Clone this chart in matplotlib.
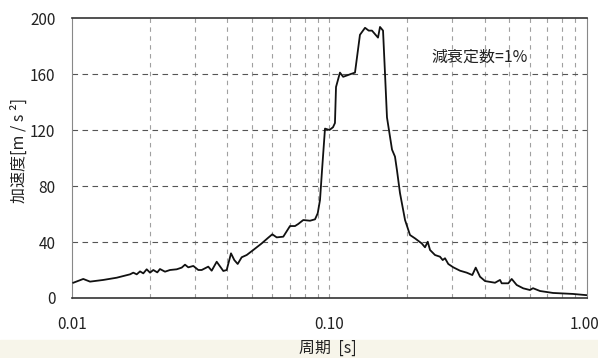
import numpy as np
import matplotlib.pyplot as plt
from matplotlib.ticker import FixedLocator, NullFormatter
from matplotlib.patches import Rectangle

plt.rcParams['font.family'] = ['Noto Sans CJK JP', 'DejaVu Sans']

# response spectrum (period [s], acceleration [m/s2])
period = [0.01012, 0.01106, 0.01175, 0.01323, 0.01492, 0.01680, 0.01730, 0.01784,
          0.01837, 0.01892, 0.01950, 0.02009, 0.02069, 0.02144, 0.02196, 0.02297,
          0.02402, 0.02551, 0.02667, 0.02747, 0.02829, 0.02959, 0.03094, 0.03189,
          0.03382, 0.03487, 0.03647, 0.03869, 0.03988, 0.04145, 0.04269, 0.04400,
          0.04560, 0.04769, 0.05059, 0.05454, 0.05785, 0.05996, 0.06237, 0.06615,
          0.07024, 0.07345, 0.07565, 0.07910, 0.08401, 0.08785, 0.09000, 0.09186,
          0.09352, 0.09605, 0.1000, 0.1032, 0.1050, 0.1060, 0.1098, 0.1130,
          0.1170, 0.1210, 0.1256, 0.1279, 0.1313, 0.1374, 0.1420, 0.1462,
          0.1510, 0.1543, 0.1571, 0.1614, 0.1643, 0.1672, 0.1749, 0.1796,
          0.1829, 0.1878, 0.1965, 0.2054, 0.2148, 0.2281, 0.2349, 0.2407,
          0.2457, 0.2569, 0.2686, 0.2752, 0.2809, 0.2893, 0.3026, 0.3213,
          0.3411, 0.3586, 0.3697, 0.3842, 0.4018, 0.4393, 0.4594, 0.4664,
          0.4948, 0.5100, 0.5333, 0.5656, 0.6005, 0.6170, 0.6569, 0.7379,
          0.8822, 1.0000]
accel = [10.9, 13.6, 11.7, 12.9, 14.5, 16.9, 18.1, 16.9,
         19.0, 17.6, 20.5, 18.1, 20.0, 18.3, 20.7, 18.8,
         20.0, 20.5, 21.7, 23.8, 21.9, 22.9, 20.0, 20.0,
         22.4, 19.5, 25.9, 19.3, 20.0, 31.9, 27.1, 24.3,
         29.1, 30.7, 34.3, 39.0, 43.1, 45.5, 43.3, 43.8,
         51.4, 51.4, 52.9, 55.7, 55.2, 56.2, 60.5, 70.0,
         91.0, 121.0, 120.0, 122.0, 125.0, 150.7, 161.0, 158.0,
         159.0, 160.0, 161.0, 172.0, 188.0, 193.0, 191.0, 191.0,
         188.0, 186.0, 193.6, 191.0, 160.0, 129.0, 106.0, 101.0,
         91.0, 75.0, 55.7, 45.0, 42.6, 39.0, 36.2, 40.2,
         34.3, 30.7, 29.5, 27.1, 28.4, 24.3, 21.9, 19.5,
         18.1, 16.4, 21.7, 15.2, 12.1, 10.9, 12.9, 10.5,
         10.5, 13.6, 9.3, 6.9, 5.7, 7.0, 5.0, 3.6,
         2.9, 2.0]

x_major = [0.01, 0.1, 1.0]
x_labels = ['0.01', '0.10', '1.00']
y_ticks = [0, 40, 80, 120, 160, 200]

fig = plt.figure(figsize=(5.98, 3.58), dpi=100)
fig.patches.append(Rectangle((0, 0), 1, 0.05, transform=fig.transFigure,
                             color='#f7f5ea', zorder=0))
ax = fig.add_axes([0.1204, 0.1676, 0.8612, 0.7821])

minor = [m * d for d in (0.01, 0.1) for m in range(2, 10)]
for xv in minor + [0.1]:
    ax.axvline(xv, color='#a0a0a0', lw=0.8, ls=(0, (4, 4)), zorder=1)
for yv in [40, 80, 120, 160]:
    ax.axhline(yv, color='#555555', lw=0.8, ls=(0, (5, 4)), zorder=1)

ax.plot(period, accel, color='#111111', lw=1.3, zorder=3)

ax.set_xscale('log')
ax.set_xlim(0.01, 1.0)
ax.set_ylim(0, 200)
ax.xaxis.set_major_locator(FixedLocator(x_major))
ax.xaxis.set_major_formatter(NullFormatter())
ax.xaxis.set_minor_formatter(NullFormatter())
ax.set_yticks(y_ticks)
ax.tick_params(which='both', length=0, labelsize=11, colors='#222222')
ax.tick_params(axis='y', pad=12)

# x tick labels sit well below the axis; last one is pulled left to stay inside
for xv, lab in zip(x_major, x_labels):
    ha = 'right' if xv == x_major[-1] else 'center'
    dx = 9 if xv == x_major[-1] else 0
    ax.annotate(lab, (xv, 0), xycoords=('data', 'axes fraction'),
                xytext=(dx, -19), textcoords='offset points',
                ha=ha, va='center', fontsize=11, color='#222222')

for side in ['left', 'right']:
    ax.spines[side].set_color('#888888')
for side in ['top', 'bottom']:
    ax.spines[side].set_color('#333333')
    ax.spines[side].set_linewidth(1.2)

fig.text(0.5485, 0.028, '周期  [s]', fontsize=11.5, ha='center', va='center',
         color='#222222')
fig.text(0.032, 0.58, '加速度[m / s ²]', fontsize=11.5, rotation=90,
         ha='center', va='center', color='#222222')

ax.text(0.382, 172, '減衰定数=1%', fontsize=11.5, ha='center', va='center',
        color='#222222', zorder=4)

fig.savefig('out.png', dpi=100)
